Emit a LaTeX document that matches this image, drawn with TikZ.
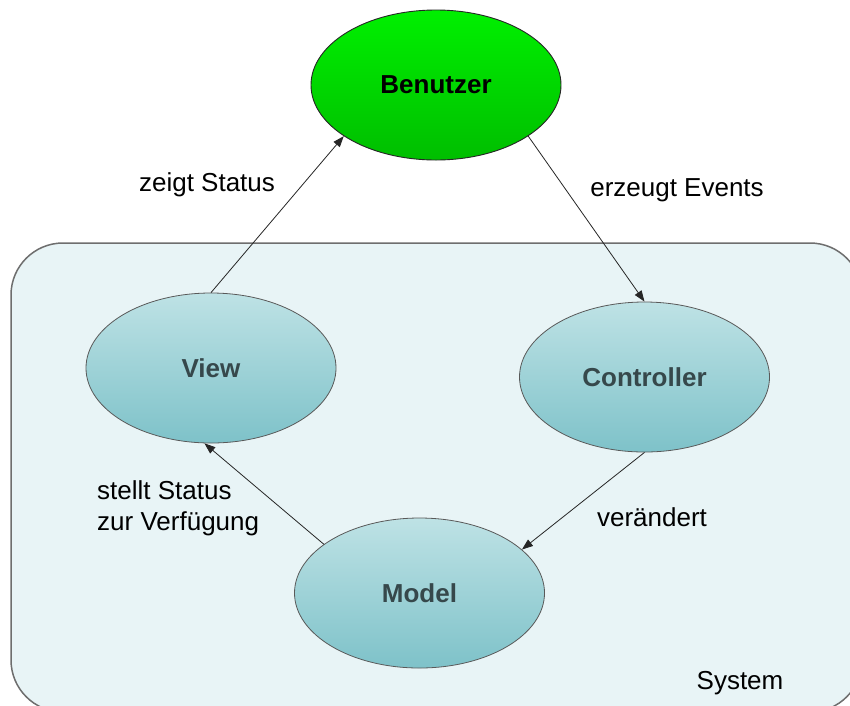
\documentclass[tikz,border=0pt]{standalone}
\usepackage{fontspec}
\setmainfont{Liberation Sans}
\usetikzlibrary{shapes.geometric,arrows.meta}

\definecolor{sysfill}{HTML}{E8F4F6}
\definecolor{sysdraw}{HTML}{6E6E6E}
\definecolor{tealtop}{HTML}{BEE2E5}
\definecolor{tealbot}{HTML}{7EC2C9}
\definecolor{greentop}{HTML}{00F000}
\definecolor{greenbot}{HTML}{00BE00}
\definecolor{nodetext}{HTML}{36484B}

\tikzset{
  base/.style={ellipse, minimum width=250pt, minimum height=150pt, inner sep=0pt,
    font=\fontsize{26}{31}\selectfont\bfseries},
  part/.style={base, draw=black!65, line width=0.8pt, top color=tealtop,
    bottom color=tealbot, text=nodetext},
  user/.style={base, draw=black!85, line width=0.9pt, top color=greentop,
    bottom color=greenbot, text=black},
  label/.style={font=\fontsize{26}{31}\selectfont, text=black, inner sep=0pt},
  flow/.style={draw=black!85, line width=0.8pt, -{Triangle[length=11pt,width=8pt]}},
}

\begin{document}
\begin{tikzpicture}[x=1pt,y=-1pt]
  \useasboundingbox (0,0) rectangle (850,705);
  \clip (0,0) rectangle (850,705);
  \fill[white] (0,0) rectangle (850,705);

  % system boundary, running past the right and bottom edges
  \draw[fill=sysfill, draw=sysdraw, line width=1.5pt, rounded corners=52pt]
    (11,243) rectangle (862,712);

  % nodes
  \node[user] (benutzer) at (436,85) {Benutzer};
  \node[part] (view) at (211,368) {View};
  \node[part] (controller) at (644.5,377) {Controller};
  \node[part] (model) at (419.5,593) {Model};

  % connectors
  \draw[flow] (view.north) -- (benutzer.209);
  \draw[flow] (benutzer.331) -- (controller.north);
  \draw[flow] (controller.south) -- (model.23);
  \draw[flow] (model.153.5) -- (view.265);

  % labels
  \node[label] (lzeigt) at (207,185) {zeigt Status};
  \node[label] (lerzeugt) at (677,190) {erzeugt Events};
  \node[label, anchor=west, align=left] (lstellt) at (97,508)
    {stellt Status\\zur Verfügung};
  \node[label] (lverand) at (652,517) {verändert};
  \node[label] (lsystem) at (740,683) {System};
\end{tikzpicture}
\end{document}
